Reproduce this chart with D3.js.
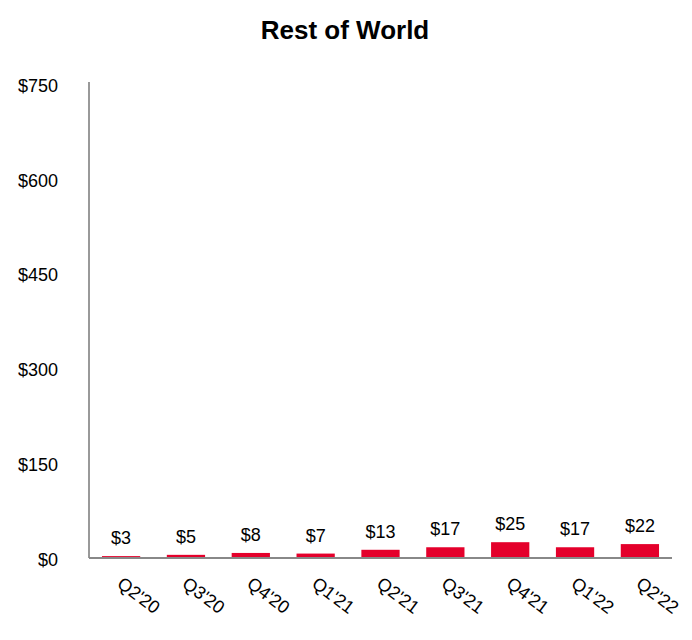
<!DOCTYPE html>
<html><head><meta charset="utf-8">
<script src="https://cdn.jsdelivr.net/npm/d3@7"></script>
<style>body{margin:0;background:#fff;font-family:"Liberation Sans",Arial,sans-serif;}</style>
</head><body>
<svg id="c" width="692" height="640"></svg>
<script>
const categories = ["Q2'20","Q3'20","Q4'20","Q1'21","Q2'21","Q3'21","Q4'21","Q1'22","Q2'22"];
const values = [3,5,8,7,13,17,25,17,22];
const yTicks = [0,150,300,450,600,750];
const title = "Rest of World";

const svg = d3.select("#c");
const m = {left:89, right:672, top:84, bottom:558};
const x = d3.scaleBand().domain(categories).range([m.left, m.right]).paddingInner(0.41).paddingOuter(0.2);
const y = d3.scaleLinear().domain([0,750]).range([m.bottom, m.top]);

svg.append("text").attr("x",345).attr("y",39).attr("text-anchor","middle")
  .attr("font-size",26).attr("font-weight","bold").attr("fill","#000").text(title);

svg.selectAll("rect.bar").data(values).enter().append("rect")
  .attr("x",(d,i)=>x(categories[i])).attr("width",x.bandwidth())
  .attr("y",d=>y(d)).attr("height",d=>y(0)-y(d)).attr("fill","#e4002b");

svg.selectAll("text.val").data(values).enter().append("text")
  .attr("x",(d,i)=>x(categories[i])+x.bandwidth()/2).attr("y",d=>y(d)-12)
  .attr("text-anchor","middle").attr("font-size",18).attr("fill","#000").text(d=>"$"+d);

// y axis
const ya = svg.append("g").attr("transform",`translate(${m.left},0)`)
  .call(d3.axisLeft(y).tickValues(yTicks).tickSize(0).tickPadding(31).tickFormat(d=>"$"+d));
ya.select(".domain").attr("stroke","#999").attr("stroke-width",2).attr("d",`M0,${m.top-2}V${m.bottom}`);
ya.selectAll("text").attr("font-size",18).attr("font-family","Liberation Sans, Arial, sans-serif").attr("fill","#000").attr("dy","0.4em");

// x axis
const xa = svg.append("g").attr("transform",`translate(0,${m.bottom})`)
  .call(d3.axisBottom(x).tickSize(0).tickFormat(d=>d));
xa.select(".domain").attr("stroke","#888").attr("stroke-width",2).attr("d",`M${m.left},0H${m.right}`);
xa.selectAll("text").attr("font-size",18).attr("font-family","Liberation Sans, Arial, sans-serif").attr("fill","#000")
  .attr("text-anchor","start").attr("dy",0).attr("y",0)
  .attr("transform","translate(-5,28) rotate(37)");
</script>
</body></html>
